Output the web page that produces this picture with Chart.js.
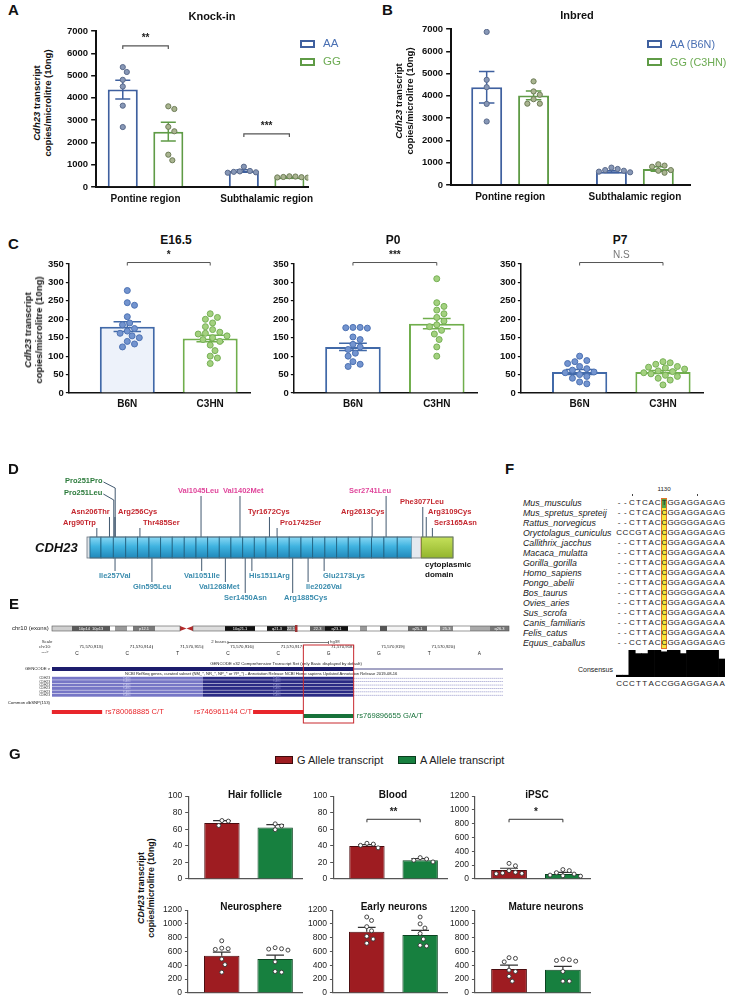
<!DOCTYPE html>
<html>
<head>
<meta charset="utf-8">
<title>CDH23 expression figure</title>
<script src="https://cdn.jsdelivr.net/npm/chart.js@4.4.1/dist/chart.umd.min.js"></script>
<style>
  html, body { margin: 0; padding: 0; background: #fff; }
  #page { position: relative; width: 729px; height: 1000px; overflow: hidden; font-family: 'Liberation Sans', Arial, sans-serif; color: #111; }
  .t { position: absolute; white-space: nowrap; line-height: 1; }
  .box { position: absolute; box-sizing: border-box; }
</style>
</head>
<body>
<div id="page"></div>
<script>
const FONT = "'Liberation Sans', Arial, sans-serif";
Chart.defaults.font.family = FONT;
Chart.defaults.color = '#111';

// ---------- A: knock-in mice ----------
const regions = ['Pontine region', 'Subthalamic region'];
const kiAA = [4370, 720];
const kiAASem = [425, 50];
const kiGG = [2480, 440];
const kiGGSem = [420, 20];
const kiAAPts = [[5380, 5160, 4810, 4510, 3650, 2690], [910, 720, 700, 680, 660, 640]];
const kiGGPts = [[3620, 3500, 2700, 2500, 1450, 1200], [480, 470, 450, 440, 430, 420]];
const kiSig = ['**', '***'];

// ---------- B: inbred strains ----------
const inAA = [4390, 600];
const inAASem = [705, 40];
const inGG = [4020, 720];
const inGGSem = [200, 100];
const inAAPts = [[6870, 4720, 4390, 3640, 2850], [780, 720, 670, 640, 600, 570]];
const inGGPts = [[4650, 4200, 4050, 3850, 3650, 3650], [930, 870, 820, 670, 640, 550]];

// ---------- C: developmental time course ----------
const stages = ['E16.5', 'P0', 'P7'];
const strains = ['B6N', 'C3HN'];
const b6nMean = [180, 125, 57];
const b6nSem = [13, 10, 7];
const c3hnMean = [148, 188, 57];
const c3hnSem = [9, 14, 4];
const b6nPts = [
  [278, 245, 238, 207, 190, 185, 175, 168, 162, 155, 150, 140, 133, 125],
  [178, 178, 177, 176, 152, 145, 132, 125, 118, 108, 100, 85, 78, 72],
  [100, 88, 85, 80, 72, 66, 62, 57, 55, 50, 45, 40, 30, 25]
];
const c3hnPts = [
  [215, 205, 200, 190, 180, 172, 165, 162, 160, 155, 150, 145, 140, 130, 115, 100, 95, 80],
  [310, 245, 235, 225, 215, 205, 195, 185, 180, 170, 160, 145, 125, 100],
  [85, 82, 78, 72, 70, 68, 65, 60, 58, 55, 52, 48, 45, 40, 35, 22]
];
const devSig = ['*', '***', 'N.S'];

// ---------- D: CDH23 protein variants ----------
const cdh23Length = 3354;
const ecBounds = [27, 128, 241, 355, 464, 568, 675, 781, 891, 999, 1106, 1212, 1319, 1427, 1533,
  1640, 1747, 1853, 1961, 2068, 2180, 2288, 2394, 2501, 2608, 2721, 2843, 2975];
const tmStart = 3058;
const cytoStart = 3066;
const varRed = ['Arg90Trp', 'Asn206Thr', 'Arg256Cys', 'Thr485Ser', 'Tyr1672Cys', 'Pro1742Ser',
  'Arg2613Cys', 'Phe3077Leu', 'Arg3109Cys', 'Ser3165Asn'];
const varGreen = ['Pro251Pro', 'Pro251Leu'];
const varPink = ['Val1045Leu', 'Val1402Met', 'Ser2741Leu'];
const varTeal = ['Ile257Val', 'Gln595Leu', 'Val1051Ile', 'Val1268Met', 'Ser1450Asn', 'His1511Arg',
  'Arg1885Cys', 'Ile2026Val', 'Glu2173Lys'];

// ---------- E: genome browser ----------
const firstBase = 71570913;
const exonBases = ['C', 'C', 'T', 'C', 'C', 'G', 'G', 'T', 'A'];
const posTicks = [71570913, 71570914, 71570915, 71570916, 71570917, 71570918, 71570919, 71570920];
const exonEnd = 71570918;
const refseqSplit = 71570915;
const snpIds = ['rs780068885', 'rs746961144', 'rs769896655'];
const snpAlleles = ['C/T', 'C/T', 'G/A/T'];
const snpPos = [71570913, 71570917, 71570918];
const focusSnp = 71570918;

// ---------- F: alignment ----------
const species = ['Mus_musculus', 'Mus_spretus_spreteij', 'Rattus_norvegicus', 'Oryctolagus_cuniculus',
  'Callithrix_jacchus', 'Macaca_mulatta', 'Gorilla_gorilla', 'Homo_sapiens', 'Pongo_abelii',
  'Bos_taurus', 'Ovies_aries', 'Sus_scrofa', 'Canis_familiaris', 'Felis_catus', 'Equus_caballus'];
const alignment = [
  '--CTCACTGGAGGAGAG', '--CTCACCGGAGGAGAG', '--CTTACCGGGGGAGAG', 'CCCGTACCGGAGGAGAG',
  '--CTTACCGGAGGAGAA', '--CTTACCGGAGGAGAA', '--CTTACCGGAGGAGAA', '--CTTACCGGAGGAGAA',
  '--CTTACCGGAGGAGAA', '--CTTACCGGGGGAGAA', '--CTTACCGGAGGAGAA', '--CTTACCGGAGGAGAA',
  '--CTTACCGGAGGAGAA', '--CTTACCGGAGGAGAA', '--CCTACCGGAGGAGAG'
];
const consensusSeq = 'CCCTTACCGGAGGAGAA';
const variantColumn = 7;
const columnLabel = '1130';

// ---------- G: human cells ----------
const tissues = ['Hair follicle', 'Blood', 'iPSC', 'Neurosphere', 'Early neurons', 'Mature neurons'];
const tissueMax = [100, 100, 1200, 1200, 1200, 1200];
const tissueStep = [20, 20, 200, 200, 200, 200];
const gAllele = [67.5, 39.8, 130, 538, 888, 346];
const gAlleleSem = [2.8, 1.6, 24, 52, 62, 57];
const aAllele = [62, 22.5, 72, 490, 840, 336];
const aAlleleSem = [3.5, 2, 24, 57, 67, 48];
const gAllelePts = [
  [70.5, 69.8, 64.5],
  [43, 42, 40.5, 37.5],
  [225, 190, 120, 95, 85, 80, 75],
  [755, 648, 640, 630, 490, 410, 300],
  [1100, 1050, 960, 900, 820, 780, 720],
  [510, 500, 450, 330, 310, 240, 170]
];
const aAllelePts = [
  [66.5, 64, 59.5],
  [25.7, 24, 22.5, 20.5],
  [135, 120, 90, 70, 55, 45, 40],
  [655, 640, 635, 620, 450, 310, 300],
  [1100, 1000, 940, 860, 780, 690, 680],
  [490, 480, 470, 460, 310, 170, 170]
];
const tissueSig = ['', '**', '*', '', '', ''];

// ================= helpers =================
const page = document.getElementById('page');

function text(s, x, y, css, anchor) {
  const d = document.createElement('div');
  d.className = 't';
  d.innerHTML = s;
  const tx = anchor === 'c' ? '-50%' : anchor === 'r' ? '-100%' : '0';
  d.style.cssText = `left:${x}px;top:${y}px;transform:translate(${tx},-50%);` + (css || '');
  page.appendChild(d);
  return d;
}

function rect(x, y, w, h, css) {
  const d = document.createElement('div');
  d.className = 'box';
  d.style.cssText = `left:${x}px;top:${y}px;width:${w}px;height:${h}px;` + css;
  page.appendChild(d);
}

function yTitle(html, cx, cy, css) {
  const d = document.createElement('div');
  d.className = 't';
  d.innerHTML = html;
  d.style.cssText = `left:${cx}px;top:${cy}px;transform:translate(-50%,-50%) rotate(-90deg);` +
    'text-align:center;line-height:1.15;font-weight:bold;' + css;
  page.appendChild(d);
}

// build the chart twice so its plot area lands exactly on the wanted box
function placeChart(area, makeConfig) {
  const holder = document.createElement('div');
  holder.style.position = 'absolute';
  page.appendChild(holder);
  let w = Math.round(area.x1 - area.x0 + 100), h = Math.round(area.y1 - area.y0 + 60);
  const build = () => {
    holder.innerHTML = '';
    const cv = document.createElement('canvas');
    cv.width = w; cv.height = h;
    cv.style.width = w + 'px'; cv.style.height = h + 'px'; cv.style.display = 'block';
    holder.appendChild(cv);
    return new Chart(cv, makeConfig());
  };
  let chart = build();
  let ca = chart.chartArea;
  w = Math.round(w + (area.x1 - area.x0) - (ca.right - ca.left));
  h = Math.round(h + (area.y1 - area.y0) - (ca.bottom - ca.top));
  chart.destroy();
  chart = build();
  ca = chart.chartArea;
  holder.style.left = (area.x0 - ca.left) + 'px';
  holder.style.top = (area.y0 - ca.top) + 'px';
  return chart;
}

// spread dots sideways when they would overlap (pixel offsets)
function swarm(vals, pxPerVal, r, gap) {
  const d = 2 * r + gap, placed = [], out = [];
  vals.map((v, i) => i).sort((a, b) => vals[b] - vals[a]).forEach(i => {
    const y = vals[i] * pxPerVal;
    for (let k = 0; k < 80; k++) {
      const x = (k % 2 ? 1 : -1) * Math.ceil(k / 2) * r * 0.8;
      if (placed.every(q => Math.hypot(q.x - x, q.y - y) >= d)) { placed.push({ x, y }); out[i] = x; break; }
    }
  });
  return out;
}

function errorPlugin(lw, both) {
  return {
    id: 'errorBars',
    afterDatasetDraw(chart, args) {
      const ds = chart.data.datasets[args.index];
      if (!ds.sem) return;
      const ctx = chart.ctx, ys = chart.scales.y;
      args.meta.data.forEach((bar, i) => {
        const m = ds.data[i].y, s = ds.sem[i];
        const top = ys.getPixelForValue(m + s), bot = ys.getPixelForValue(both ? m - s : m);
        const cap = bar.width / 4;
        ctx.save();
        ctx.strokeStyle = Array.isArray(ds.errColor) ? ds.errColor[i] : ds.errColor;
        ctx.lineWidth = lw;
        ctx.beginPath();
        ctx.moveTo(bar.x, top); ctx.lineTo(bar.x, bot);
        ctx.moveTo(bar.x - cap, top); ctx.lineTo(bar.x + cap, top);
        if (both) { ctx.moveTo(bar.x - cap, bot); ctx.lineTo(bar.x + cap, bot); }
        ctx.stroke();
        ctx.restore();
      });
    }
  };
}

function bracketPlugin(items) {
  return {
    id: 'brackets',
    afterDraw(chart) {
      const ctx = chart.ctx, xs = chart.scales.x, ys = chart.scales.y;
      items.forEach(b => {
        const x0 = xs.getPixelForValue(b.x0), x1 = xs.getPixelForValue(b.x1), y = ys.getPixelForValue(b.y);
        ctx.save();
        ctx.strokeStyle = b.color; ctx.lineWidth = b.lw;
        ctx.beginPath();
        ctx.moveTo(x0, y + b.drop); ctx.lineTo(x0, y); ctx.lineTo(x1, y); ctx.lineTo(x1, y + b.drop);
        ctx.stroke();
        ctx.fillStyle = b.textColor; ctx.font = b.font;
        ctx.textAlign = 'center'; ctx.textBaseline = 'middle';
        ctx.fillText(b.text, (x0 + x1) / 2, y - b.lift);
        ctx.restore();
      });
    }
  };
}

function barPanel(p) {
  const K = p.series.length;
  const unitPx = (p.area.x1 - p.area.x0) / (p.xmax - p.xmin);
  const pxPerVal = (p.area.y1 - p.area.y0) / p.yMax;
  const off = k => (k - (K - 1) / 2) * p.catPct / K;
  const at = (v, c) => Array.isArray(v) ? v[c] : v;
  const brackets = (p.brackets || []).filter(b => b.text).map(b => Object.assign({
    x0: b.a[0] + off(b.a[1]), x1: b.b[0] + off(b.b[1])
  }, p.bracketStyle, b));
  const makeConfig = () => {
    const datasets = [];
    p.series.forEach(s => {
      datasets.push({
        type: 'bar', order: 1, label: s.label,
        data: s.values.map((v, c) => ({ x: c, y: v })),
        sem: s.sems, errColor: s.errColor || s.border,
        backgroundColor: s.fill, borderColor: s.border, borderWidth: p.barBorder,
        borderSkipped: 'start', categoryPercentage: p.catPct, barPercentage: p.barPct
      });
    });
    p.series.forEach((s, k) => {
      s.points.forEach((pts, c) => {
        const jit = swarm(pts, pxPerVal, p.ptR, p.gap);
        datasets.push({
          type: 'scatter', order: 0,
          data: pts.map((v, j) => ({ x: c + off(k) + jit[j] / unitPx, y: v })),
          pointRadius: p.ptR, pointBackgroundColor: at(s.ptFill, c),
          pointBorderColor: at(s.ptBorder, c), pointBorderWidth: p.ptBW
        });
      });
    });
    return {
      type: 'bar',
      data: { datasets },
      options: {
        responsive: false, maintainAspectRatio: false, animation: false, events: [],
        layout: { padding: p.pad || { left: 4, right: 4, top: 10, bottom: 2 } },
        plugins: { legend: { display: false }, tooltip: { enabled: false } },
        scales: {
          x: {
            type: 'linear', min: p.xmin, max: p.xmax, offset: false,
            afterBuildTicks: sc => { sc.ticks = p.labels.map((_, i) => ({ value: i })); },
            ticks: {
              display: !!p.showLabels, callback: v => p.labels[Math.round(v)] || '',
              font: p.labelFont, color: '#111', padding: p.labelPad, maxRotation: 0, autoSkip: false
            },
            grid: { display: false, drawTicks: false, offset: false },
            border: { color: p.axisColor, width: p.axisWidth }
          },
          y: {
            min: 0, max: p.yMax,
            ticks: {
              stepSize: p.yStep, font: p.tickFont, color: p.tickColor, padding: p.tickPad,
              autoSkip: false, callback: v => String(v)
            },
            grid: {
              drawOnChartArea: false, drawTicks: true, tickLength: p.tickLen,
              tickColor: p.axisColor, lineWidth: p.tickWidth, tickWidth: p.tickWidth
            },
            border: { color: p.axisColor, width: p.axisWidth }
          }
        }
      },
      plugins: [errorPlugin(p.errWidth, p.errBoth), bracketPlugin(brackets)]
    };
  };
  return placeChart(p.area, makeConfig);
}

// ================= A & B =================
const BLUE = '#3f609f', GREEN = '#5f9b46';
const abStyle = {
  labels: regions, showLabels: true, yMax: 7000, yStep: 1000,
  catPct: 0.752, barPct: 0.66, barBorder: 2, ptR: 2.6, ptBW: 1, gap: 1,
  tickFont: { size: 9.5, weight: 'bold' }, tickColor: '#111', tickPad: 3, tickLen: 5, tickWidth: 1.5,
  labelFont: { size: 10, weight: 'bold' }, labelPad: 6,
  axisColor: '#111', axisWidth: 2, errWidth: 1.5, errBoth: true,
  bracketStyle: { color: '#555', lw: 1.2, drop: 3, lift: 8, textColor: '#222', font: 'bold 10px ' + FONT }
};

barPanel(Object.assign({}, abStyle, {
  area: { x0: 96, x1: 315, y0: 31, y1: 187 }, xmin: -0.408, xmax: 1.344,
  series: [
    { label: 'AA', values: kiAA, sems: kiAASem, points: kiAAPts, fill: '#fff', border: BLUE, ptFill: '#8797b6', ptBorder: '#5b6b8c' },
    { label: 'GG', values: kiGG, sems: kiGGSem, points: kiGGPts, fill: '#fff', border: GREEN, ptFill: '#a9b490', ptBorder: '#6e7d58' }
  ],
  brackets: [
    { a: [0, 0], b: [0, 1], y: 6330, text: kiSig[0] },
    { a: [1, 0], b: [1, 1], y: 2380, text: kiSig[1] }
  ]
}));

barPanel(Object.assign({}, abStyle, {
  area: { x0: 451, x1: 690, y0: 29, y1: 185 }, xmin: -0.473, xmax: 1.442,
  series: [
    { label: 'AA (B6N)', values: inAA, sems: inAASem, points: inAAPts, fill: '#fff', border: BLUE, ptFill: '#8797b6', ptBorder: '#5b6b8c' },
    { label: 'GG (C3HN)', values: inGG, sems: inGGSem, points: inGGPts, fill: '#fff', border: GREEN, ptFill: '#a9b490', ptBorder: '#6e7d58' }
  ]
}));

text('A', 8, 9, 'font-weight:bold;font-size:15px');
text('B', 382, 9, 'font-weight:bold;font-size:15px');
text('Knock-in', 212, 16, 'font-weight:bold;font-size:11px', 'c');
text('Inbred', 577, 15, 'font-weight:bold;font-size:11px', 'c');
yTitle('<i>Cdh23</i> transcript<br>copies/microlitre (10ng)', 43, 103, 'font-size:9.5px');
yTitle('<i>Cdh23</i> transcript<br>copies/microlitre (10ng)', 405, 101, 'font-size:9.5px');

rect(300, 39.5, 15, 8, `border:2px solid ${BLUE};background:#fff;`);
text('AA', 323, 44, 'font-size:11.5px;color:#4a70b3');
rect(300, 57.5, 15, 8, `border:2px solid ${GREEN};background:#fff;`);
text('GG', 323, 62, 'font-size:11.5px;color:#6cab52');
rect(647, 39.5, 15, 8, `border:2px solid ${BLUE};background:#fff;`);
text('AA (B6N)', 670, 44, 'font-size:10.8px;color:#4a70b3');
rect(647, 57.5, 15, 8, `border:2px solid ${GREEN};background:#fff;`);
text('GG (C3HN)', 670, 62, 'font-size:10.8px;color:#6cab52');

// ================= C =================
const cAreas = [
  { x0: 69, x1: 250, y0: 264, y1: 393 },
  { x0: 294, x1: 477, y0: 264, y1: 393 },
  { x0: 521, x1: 703, y0: 264, y1: 393 }
];
const cTitleX = [176, 393, 620];
stages.forEach((st, s) => {
  barPanel({
    area: cAreas[s], xmin: -0.705, xmax: 1.48,
    labels: strains, showLabels: true, yMax: 350, yStep: 50,
    catPct: 1, barPct: 0.663, barBorder: 2, ptR: 3, ptBW: 1, gap: 0.6,
    tickFont: { size: 9.5, weight: 'bold' }, tickColor: '#111', tickPad: 2, tickLen: 3, tickWidth: 1.2,
    labelFont: { size: 10, weight: 'bold' }, labelPad: 5,
    axisColor: '#111', axisWidth: 1.5, errWidth: 1.5, errBoth: true,
    pad: { left: 4, right: 4, top: 16, bottom: 2 },
    series: [{
      label: st,
      values: [b6nMean[s], c3hnMean[s]], sems: [b6nSem[s], c3hnSem[s]], points: [b6nPts[s], c3hnPts[s]],
      fill: [s === 0 ? '#edf2fa' : '#fff', '#fff'], border: ['#4169a8', '#70ae4c'],
      ptFill: ['#7394cf', '#a3d17f'], ptBorder: ['#4d72b3', '#77b056']
    }],
    bracketStyle: {
      color: '#555', lw: 1, drop: 3, lift: 7, font: (devSig[s] === 'N.S' ? '' : 'bold ') + '10px ' + FONT,
      textColor: devSig[s] === 'N.S' ? '#777' : '#222'
    },
    brackets: [{ a: [0, 0], b: [1, 0], y: 354, text: devSig[s] }]
  });
  text(st, cTitleX[s], 240, 'font-weight:bold;font-size:12px', 'c');
});
text('C', 8, 243, 'font-weight:bold;font-size:15px');
yTitle('<i>Cdh23</i> transcript<br>copies/microlitre (10ng)', 34, 330, 'font-size:9.5px');

// ================= D =================
const D_AREA = { x0: 87, x1: 453, y0: 465, y1: 612 };
const variantGroups = [
  { names: varRed, color: '#c4262e' },
  { names: varGreen, color: '#2a7a3a' },
  { names: varPink, color: '#e0459b' },
  { names: varTeal, color: '#3a8cae', below: true }
];
// label placement (page px): left x, middle y, stem style, stem nudge
const labelAt = {
  Pro251Pro: [65, 481, 'elbow', 0.8], Pro251Leu: [64, 493, 'elbow', -0.6],
  Asn206Thr: [71, 512], Arg90Trp: [63, 523], Arg256Cys: [118, 512], Thr485Ser: [143, 523],
  Val1045Leu: [178, 491], Val1402Met: [223, 491], Tyr1672Cys: [248, 512], Pro1742Ser: [280, 523],
  Arg2613Cys: [341, 512], Ser2741Leu: [349, 491], Phe3077Leu: [400, 502], Arg3109Cys: [428, 512],
  Ser3165Asn: [434, 523],
  Ile257Val: [99, 576], Gln595Leu: [133, 587], Val1051Ile: [184, 576], Val1268Met: [199, 587],
  Ser1450Asn: [224, 598], His1511Arg: [249, 576], Arg1885Cys: [284, 598], Ile2026Val: [306, 587],
  Glu2173Lys: [323, 576]
};
const aaPos = name => parseInt(name.match(/\d+/)[0], 10);

const proteinPlugin = {
  id: 'protein',
  afterDraw(chart) {
    const ctx = chart.ctx, ca = chart.chartArea;
    const X = a => chart.scales.x.getPixelForValue(a);
    const Y = v => chart.scales.y.getPixelForValue(v);
    const P = px => px - D_AREA.x0 + ca.left;
    const top = Y(537), bot = Y(558);
    ctx.save();
    ctx.font = 'bold 7.5px ' + FONT;
    ctx.textBaseline = 'middle'; ctx.textAlign = 'left';
    variantGroups.forEach(g => g.names.forEach(name => {
      const lay = labelAt[name];
      const sx = X(aaPos(name)) + (lay[3] || 0), tx = P(lay[0]), ty = Y(lay[1]);
      ctx.fillStyle = g.color;
      ctx.fillText(name, tx, ty);
      ctx.strokeStyle = '#2d4660'; ctx.lineWidth = 0.9;
      ctx.beginPath();
      if (g.below) { ctx.moveTo(sx, bot); ctx.lineTo(sx, ty - 5); }
      else if (lay[2] === 'elbow') {
        const w = ctx.measureText(name).width;
        ctx.moveTo(tx + w + 1, ty + 1); ctx.lineTo(sx, ty + 7); ctx.lineTo(sx, top);
      } else { ctx.moveTo(sx, ty + 5); ctx.lineTo(sx, top); }
      ctx.stroke();
    }));
    // protein body
    const hgt = bot - top;
    ctx.fillStyle = '#dde3e9';
    ctx.fillRect(X(0), top, X(ecBounds[0]) - X(0), hgt);
    const grad = ctx.createLinearGradient(0, top, 0, bot);
    grad.addColorStop(0, '#8ad8f4'); grad.addColorStop(0.45, '#3fb3e0'); grad.addColorStop(1, '#2088ba');
    for (let i = 0; i < ecBounds.length - 1; i++) {
      const x0 = X(ecBounds[i]), x1 = X(ecBounds[i + 1]);
      ctx.fillStyle = grad; ctx.fillRect(x0, top, x1 - x0, hgt);
      ctx.strokeStyle = '#1d5e7d'; ctx.lineWidth = 0.8; ctx.strokeRect(x0, top, x1 - x0, hgt);
    }
    const last = ecBounds[ecBounds.length - 1];
    ctx.fillStyle = '#e4e9ef'; ctx.fillRect(X(last), top, X(tmStart) - X(last), hgt);
    ctx.fillStyle = '#c0392b'; ctx.fillRect(X(tmStart), top, X(cytoStart) - X(tmStart), hgt);
    const g2 = ctx.createLinearGradient(0, top, 0, bot);
    g2.addColorStop(0, '#c4e05a'); g2.addColorStop(1, '#93b52c');
    ctx.fillStyle = g2; ctx.fillRect(X(cytoStart), top, X(cdh23Length) - X(cytoStart), hgt);
    ctx.strokeStyle = '#6f8a2a'; ctx.lineWidth = 0.8;
    ctx.strokeRect(X(cytoStart), top, X(cdh23Length) - X(cytoStart), hgt);
    ctx.strokeStyle = '#6b7680'; ctx.strokeRect(X(0), top, X(cdh23Length) - X(0), hgt);
    // labels
    ctx.fillStyle = '#111';
    ctx.font = 'italic bold 13px ' + FONT;
    ctx.fillText('CDH23', P(35), Y(548));
    ctx.font = 'bold 8px ' + FONT;
    ctx.fillText('cytoplasmic', P(425), Y(565));
    ctx.fillText('domain', P(425), Y(575));
    ctx.restore();
  }
};

placeChart(D_AREA, () => ({
  type: 'scatter',
  data: { datasets: [{ data: varRed.concat(varGreen, varPink, varTeal).map(n => ({ x: aaPos(n), y: 547 })), pointRadius: 0 }] },
  options: {
    responsive: false, maintainAspectRatio: false, animation: false, events: [],
    layout: { padding: { left: 87, right: 47, top: 0, bottom: 0 } },
    plugins: { legend: { display: false }, tooltip: { enabled: false } },
    scales: {
      x: { type: 'linear', display: false, min: 0, max: cdh23Length },
      y: { type: 'linear', display: false, min: 465, max: 612, reverse: true }
    }
  },
  plugins: [proteinPlugin]
}));
text('D', 8, 468, 'font-weight:bold;font-size:15px');

// ================= E =================
const E_AREA = { x0: 52, x1: 504, y0: 615, y1: 727 };
const E_BASE_PX = 50.3;
const eMin = firstBase - 25 / E_BASE_PX;
const eMax = eMin + (E_AREA.x1 - E_AREA.x0) / E_BASE_PX;
// chromosome 10 ideogram bands (page px)
const bands = [
  [52, 72, '#cfcfcf'], [72, 110, '#5a5a5a', '10p14  10p13'], [110, 115, '#fff'], [115, 127, '#9a9a9a'],
  [127, 133, '#fff'], [133, 155, '#7a7a7a', 'p12.1'], [155, 180, '#ececec'], [193, 225, '#dcdcdc'],
  [225, 255, '#111', '10q21.1'], [255, 267, '#fff'], [267, 287, '#1a1a1a', 'q21.3'], [287, 295, '#777', '22.1'],
  [298, 310, '#fff'], [310, 325, '#666', '22.3'], [325, 348, '#111', 'q23.1'], [348, 360, '#fff'],
  [360, 367, '#999'], [367, 380, '#fff'], [380, 387, '#555'], [387, 408, '#f4f4f4'],
  [408, 427, '#666', 'q25.1'], [427, 440, '#fff'], [440, 453, '#888', '25.3'], [453, 470, '#fff'],
  [470, 490, '#aaa'], [490, 509, '#777', 'q26.3']
];

const browserPlugin = {
  id: 'browser',
  afterDraw(chart) {
    const ctx = chart.ctx, ca = chart.chartArea;
    const X = g => chart.scales.x.getPixelForValue(g);
    const Y = v => chart.scales.y.getPixelForValue(v);
    const P = px => px - E_AREA.x0 + ca.left;
    const txt = (s, x, y, size, color, align, style) => {
      ctx.font = (style ? style + ' ' : '') + size + 'px ' + FONT;
      ctx.fillStyle = color; ctx.textAlign = align || 'left'; ctx.textBaseline = 'middle';
      ctx.fillText(s, x, y);
    };
    ctx.save();
    // ideogram
    txt('chr10 (exons)', P(12), Y(628.5), 6, '#222');
    const it = Y(626), ib = Y(631);
    bands.forEach(b => {
      ctx.fillStyle = b[2]; ctx.fillRect(P(b[0]), it, P(b[1]) - P(b[0]), ib - it);
      if (b[3]) txt(b[3], (P(b[0]) + P(b[1])) / 2, (it + ib) / 2, 4, b[2] === '#fff' ? '#222' : '#fff', 'center');
    });
    ctx.fillStyle = '#b5292a';
    ctx.beginPath(); ctx.moveTo(P(180), it); ctx.lineTo(P(186.5), (it + ib) / 2); ctx.lineTo(P(180), ib); ctx.fill();
    ctx.beginPath(); ctx.moveTo(P(193), it); ctx.lineTo(P(186.5), (it + ib) / 2); ctx.lineTo(P(193), ib); ctx.fill();
    ctx.fillRect(P(295), it - 1, 2.5, ib - it + 2);
    ctx.strokeStyle = '#555'; ctx.lineWidth = 0.6;
    ctx.strokeRect(P(52), it, P(180) - P(52), ib - it);
    ctx.strokeRect(P(193), it, P(509) - P(193), ib - it);
    // scale row
    txt('Scale', P(47), Y(642), 4.3, '#333', 'center');
    txt('chr10:', P(45), Y(647), 4.3, '#333', 'center');
    txt('--->', P(45), Y(652), 4.3, '#333', 'center');
    const s0 = X(firstBase + 3), s1 = X(firstBase + 5);
    ctx.strokeStyle = '#444'; ctx.lineWidth = 0.7;
    ctx.beginPath();
    ctx.moveTo(s0, Y(642.5)); ctx.lineTo(s1, Y(642.5));
    ctx.moveTo(s0, Y(641)); ctx.lineTo(s0, Y(644)); ctx.moveTo(s1, Y(641)); ctx.lineTo(s1, Y(644));
    ctx.stroke();
    txt('2 bases', s0 - 1.5, Y(642.3), 4.3, '#333', 'right');
    txt('hg38', s1 + 1.5, Y(642.3), 4.3, '#333', 'left');
    posTicks.forEach(p => {
      const x = X(p + 0.5);
      txt(p.toLocaleString('en-US'), x - 1.2, Y(647), 4.3, '#222', 'right');
      ctx.beginPath(); ctx.moveTo(x, Y(645.3)); ctx.lineTo(x, Y(648.7)); ctx.stroke();
    });
    exonBases.forEach((b, i) => txt(b, X(firstBase + i), Y(654), 4.8, '#222', 'center'));
    // GENCODE
    txt('GENCODE v32 Comprehensive Transcript Set (only Basic displayed by default)', P(286), Y(664), 4.3, '#222', 'center');
    txt('GENCODE v', P(50), Y(669), 4.3, '#222', 'right');
    const exR = X(exonEnd + 0.5);
    ctx.fillStyle = '#1c1c6c'; ctx.fillRect(P(52), Y(667), exR - P(52), Y(671) - Y(667));
    ctx.strokeStyle = '#1c1c6c'; ctx.lineWidth = 0.8;
    ctx.beginPath(); ctx.moveTo(exR, Y(669)); ctx.lineTo(P(503), Y(669)); ctx.stroke();
    // RefSeq
    txt('NCBI RefSeq genes, curated subset (NM_*, NR_*, NP_* or YP_*) - Annotation Release NCBI Homo sapiens Updated Annotation Release 2019-08-16',
      P(125), Y(674), 4.1, '#222');
    const split = X(refseqSplit + 0.5);
    for (let r = 0; r < 6; r++) {
      const y0 = 676.8 + r * 3.4;
      ctx.fillStyle = '#7676c6'; ctx.fillRect(P(52), Y(y0), split - P(52), 2.9);
      ctx.fillStyle = '#2b2b85'; ctx.fillRect(split, Y(y0), exR - split, 2.9);
      ctx.strokeStyle = '#6a6ab4'; ctx.lineWidth = 0.7; ctx.setLineDash([1, 1]);
      ctx.beginPath(); ctx.moveTo(exR, Y(y0 + 1.45)); ctx.lineTo(P(503), Y(y0 + 1.45)); ctx.stroke();
      ctx.setLineDash([]);
      txt('CDH23', P(50), Y(y0 + 1.45), 3.3, '#333', 'right');
      txt('F-AR3', P(123), Y(y0 + 1.45), 2.6, '#c8c8ee', 'left');
      txt('F-AR3', P(273), Y(y0 + 1.45), 2.6, '#8d8dd0', 'left');
    }
    // dbSNP
    txt('Common dbSNP(153)', P(50), Y(703), 4.3, '#222', 'right');
    const snpRow = [0, 0, 1], snpSide = ['right', 'left', 'right'];
    snpIds.forEach((id, i) => {
      const col = snpPos[i] === focusSnp ? '#17723a' : '#e8262b';
      const y0 = 710 + snpRow[i] * 4;
      const x0 = X(snpPos[i] - 0.5), x1 = X(snpPos[i] + 0.5);
      ctx.fillStyle = col; ctx.fillRect(x0, Y(y0), x1 - x0, Y(y0 + 4) - Y(y0));
      const lab = id + ' ' + snpAlleles[i];
      if (snpSide[i] === 'right') txt(lab, x1 + 3, Y(y0 + 2), 7.6, col, 'left');
      else txt(lab, x0 - 1, Y(y0 + 2), 7.6, col, 'right');
    });
    // highlight box on the variant base
    ctx.strokeStyle = '#c8282e'; ctx.lineWidth = 1;
    ctx.strokeRect(X(focusSnp - 0.5), Y(645), X(focusSnp + 0.5) - X(focusSnp - 0.5), Y(723) - Y(645));
    ctx.restore();
  }
};

placeChart(E_AREA, () => ({
  type: 'scatter',
  data: { datasets: [{ data: snpPos.map(p => ({ x: p, y: 712 })), pointRadius: 0 }] },
  options: {
    responsive: false, maintainAspectRatio: false, animation: false, events: [],
    layout: { padding: { left: 52, right: 8, top: 0, bottom: 0 } },
    plugins: { legend: { display: false }, tooltip: { enabled: false } },
    scales: {
      x: { type: 'linear', display: false, min: eMin, max: eMax },
      y: { type: 'linear', display: false, min: 615, max: 727, reverse: true }
    }
  },
  plugins: [browserPlugin]
}));
text('E', 9, 603, 'font-weight:bold;font-size:15px');

// ================= F =================
const F_X0 = 615.8, F_CELL = 6.44, F_ROW0 = 503, F_ROWH = 10;
text('F', 505, 468, 'font-weight:bold;font-size:15px');
rect(F_X0 + variantColumn * F_CELL, F_ROW0 - 5.5, F_CELL, alignment.length * F_ROWH + 1,
  'background:#f4e63c;border:1px solid #e0742a;');
alignment.forEach((seq, r) => {
  if (seq[variantColumn] !== consensusSeq[variantColumn]) {
    rect(F_X0 + variantColumn * F_CELL + 1, F_ROW0 - 4.5 + r * F_ROWH, F_CELL - 2, F_ROWH - 1, 'background:#57a546;');
  }
});
text(columnLabel, F_X0 + (variantColumn + 0.5) * F_CELL, 489, 'font-size:6.2px;color:#222', 'c');
rect(632, 493.5, 0.8, 2, 'background:#444;');
rect(697, 493.5, 0.8, 2, 'background:#444;');
species.forEach((sp, r) => {
  const y = F_ROW0 + r * F_ROWH;
  const seq = alignment[r];
  text(sp, 523, y, 'font-style:italic;font-size:8.8px;color:#1a1a1a');
  for (let j = 0; j < seq.length; j++) {
    text(seq[j], F_X0 + (j + 0.5) * F_CELL, y, 'font-size:8px;color:#222', 'c');
  }
});
text('Consensus', 613, 669, 'font-size:7px;color:#222', 'r');
for (let j = 0; j < consensusSeq.length; j++) {
  text(consensusSeq[j], F_X0 + (j + 0.5) * F_CELL, 684, 'font-size:8px;color:#222', 'c');
}
// conservation = share of sequences carrying the most common base in each column
const conservation = consensusSeq.split('').map((_, j) => {
  const counts = {};
  alignment.forEach(s => { if (s[j] !== '-') counts[s[j]] = (counts[s[j]] || 0) + 1; });
  return Math.max(0, ...Object.values(counts)) / alignment.length;
});
placeChart({ x0: F_X0, x1: F_X0 + consensusSeq.length * F_CELL, y0: 650, y1: 677 }, () => ({
  type: 'bar',
  data: { labels: consensusSeq.split(''), datasets: [{ data: conservation, backgroundColor: '#000', borderWidth: 0, barPercentage: 1, categoryPercentage: 1 }] },
  options: {
    responsive: false, maintainAspectRatio: false, animation: false, events: [],
    layout: { padding: 0 },
    plugins: { legend: { display: false }, tooltip: { enabled: false } },
    scales: { x: { display: false }, y: { display: false, min: 0, max: 1 } }
  }
}));

// ================= G =================
text('G', 9, 753, 'font-weight:bold;font-size:15px');
rect(275, 756, 18, 8, 'background:#9e1c21;border:1px solid #3d0a0c;');
text('G Allele transcript', 297, 760, 'font-size:11px;color:#222');
rect(398, 756, 18, 8, 'background:#17803f;border:1px solid #0a3d1e;');
text('A Allele transcript', 420, 760, 'font-size:11px;color:#222');
yTitle('<i>CDH23</i> transcript<br>copies/microlitre (10ng)', 146, 888, 'font-size:8.8px');

const gCols = [[188, 302], [333, 447], [475, 590]];
const gRows = [[796, 879], [910, 993]];
const gTitlePos = [[255, 795], [393, 795], [537, 795], [251, 907], [394, 907], [546, 907]];
tissues.forEach((tis, i) => {
  const col = gCols[i % 3], row = gRows[Math.floor(i / 3)];
  barPanel({
    area: { x0: col[0], x1: col[1], y0: row[0], y1: row[1] }, xmin: -0.53, xmax: 0.47,
    labels: [''], showLabels: false, yMax: tissueMax[i], yStep: tissueStep[i],
    catPct: 0.935, barPct: 0.664, barBorder: 1, ptR: 2, ptBW: 0.9, gap: 1.8,
    tickFont: { size: 8.5 }, tickColor: '#222', tickPad: 3, tickLen: 3, tickWidth: 1,
    labelFont: { size: 9 }, labelPad: 0,
    axisColor: '#555', axisWidth: 1.2, errWidth: 1.2, errBoth: false,
    pad: { left: 4, right: 4, top: 8, bottom: 2 },
    series: [
      { label: 'G Allele transcript', values: [gAllele[i]], sems: [gAlleleSem[i]], points: [gAllelePts[i]],
        fill: '#9e1c21', border: '#4a0c0f', errColor: '#333', ptFill: '#fff', ptBorder: '#333' },
      { label: 'A Allele transcript', values: [aAllele[i]], sems: [aAlleleSem[i]], points: [aAllelePts[i]],
        fill: '#17803f', border: '#0b4421', errColor: '#333', ptFill: '#fff', ptBorder: '#333' }
    ],
    bracketStyle: { color: '#333', lw: 1, drop: 3, lift: 7, textColor: '#222', font: 'bold 10px ' + FONT },
    brackets: [{ a: [0, 0], b: [0, 1], y: tissueMax[i] * 0.72, text: tissueSig[i] }]
  });
  text(tis, gTitlePos[i][0], gTitlePos[i][1], 'font-weight:bold;font-size:10px', 'c');
});
</script>
</body>
</html>
